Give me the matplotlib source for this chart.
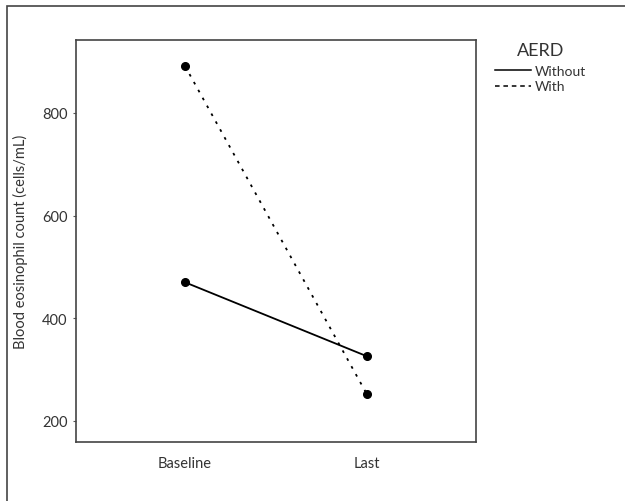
import matplotlib.pyplot as plt
from matplotlib.lines import Line2D
from matplotlib.patches import Rectangle

# Mean blood eosinophil counts by AERD status
timepoints = ['Baseline', 'Last']
without_aerd = [470, 326]
with_aerd = [891, 252]

plt.rcParams['font.family'] = ['Lato', 'DejaVu Sans']
text_color = '#333333'

fig = plt.figure(figsize=(6.25, 5.02), dpi=100)
ax = fig.add_axes([76 / 625, 1 - 443 / 502, 400 / 625, 402 / 502])

# outer frame around the whole figure
fig.patches.append(Rectangle((7 / 625, -0.05), 1.1, 1 - 7 / 502 + 0.05,
                             transform=fig.transFigure, fill=False,
                             edgecolor='#444444', linewidth=1.2))

x = range(len(timepoints))
ax.plot(x, without_aerd, color='black', linewidth=1.3, marker='o',
        markersize=5.5, linestyle='-')
ax.plot(x, with_aerd, color='black', linewidth=1.3, marker='o',
        markersize=5.5, linestyle=(0, (1.5, 3.5)))

ax.set_xlim(-0.6, 1.6)
ax.set_ylim(159, 942)
ax.set_xticks(list(x))
ax.set_xticklabels(timepoints)
ax.set_yticks([200, 400, 600, 800])
ax.set_ylabel('Blood eosinophil count (cells/mL)', fontsize=10.5,
              color=text_color, labelpad=10)
ax.tick_params(axis='both', labelsize=10.5, labelcolor=text_color,
               length=2.5, color='#555555')
ax.tick_params(axis='x', length=0, pad=10)
for side in ax.spines.values():
    side.set_color('#444444')
    side.set_linewidth(1.2)

handles = [Line2D([], [], color='black', linewidth=1.1, linestyle='-'),
           Line2D([], [], color='black', linewidth=1.1, linestyle=(0, (3, 2.5)))]
leg = fig.legend(handles, ['Without', 'With'], title='AERD',
                 loc='upper left', bbox_to_anchor=(488 / 625, 1 - 36 / 502),
                 frameon=False, fontsize=10, title_fontsize=13,
                 handlelength=2.6, handletextpad=0.3, labelspacing=0.25,
                 borderpad=0)
leg._legend_box.sep = 5
leg.get_title().set_color(text_color)
for t in leg.get_texts():
    t.set_color(text_color)

plt.savefig('out.png', dpi=100)
